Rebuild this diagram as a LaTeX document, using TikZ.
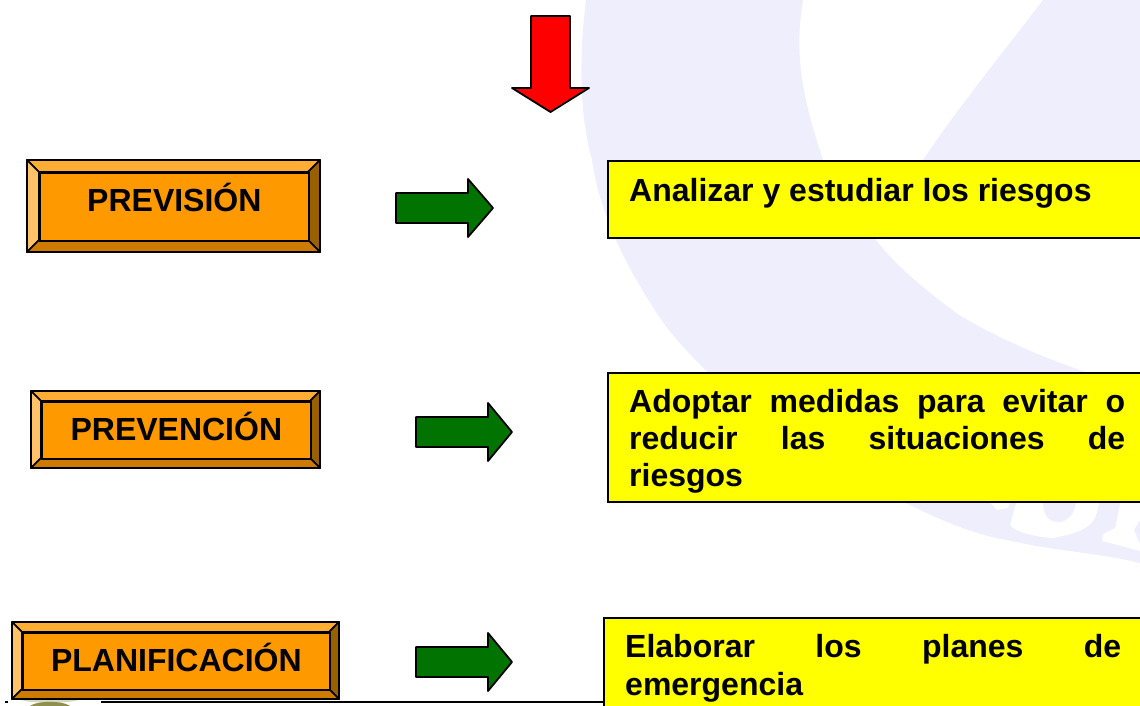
\documentclass[tikz,border=0pt]{standalone}
\usepackage{fontspec}
\setmainfont{Liberation Sans}
\definecolor{wash}{HTML}{EEEEFC}
\definecolor{faceC}{HTML}{FF9900}
\definecolor{faceT}{HTML}{FFAD33}
\definecolor{faceL}{HTML}{FFC266}
\definecolor{faceR}{HTML}{996000}
\definecolor{faceB}{HTML}{CC7A00}
\definecolor{arrowgreen}{HTML}{007300}
\definecolor{olive}{HTML}{8F8F50}
\definecolor{olivepale}{HTML}{D8D8BC}
\definecolor{pureyellow}{HTML}{FFFF00}
\definecolor{purered}{HTML}{FF0000}
\tikzset{
  x=1pt,y=-1pt,
  bev/.style={draw=black,line width=1.7pt,line join=round},
  yellowbox/.style={draw=black,fill=pureyellow,line width=2pt},
  blockarrow/.style={draw=black,line width=1.8pt,line join=round},
  label/.style={font=\fontsize{32}{37}\selectfont\bfseries,inner sep=0pt,text=black},
  bodytext/.style={font=\fontsize{32}{37}\selectfont\bfseries,inner sep=0pt,text=black,anchor=north west,align=left},
}
\newcommand{\bevelbox}[8]{%
  \fill[faceT,bev] (#2,#3) -- (#4,#3) -- (#4-#6,#3+#6) -- (#2+#6,#3+#6) -- cycle;
  \fill[faceL,bev] (#2,#3) -- (#2+#6,#3+#6) -- (#2+#6,#5-#6) -- (#2,#5) -- cycle;
  \fill[faceR,bev] (#4,#3) -- (#4,#5) -- (#4-#6,#5-#6) -- (#4-#6,#3+#6) -- cycle;
  \fill[faceB,bev] (#2,#5) -- (#2+#6,#5-#6) -- (#4-#6,#5-#6) -- (#4,#5) -- cycle;
  \node[label,draw=black,line width=1.7pt,fill=faceC,minimum width=#4-#2-2*#6,minimum height=#5-#3-2*#6,anchor=north west] (#1) at (#2+#6,#3+#6) {\smash{\raisebox{#8}{#7}}};
}
\newcommand{\jline}[1]{\hbox to 496pt{#1}}
\begin{document}
\begin{tikzpicture}
\useasboundingbox (0,0) rectangle (1140,706);
\clip (0,0) rectangle (1140,706);
% pale watermark
\fill[wash] (586,0) .. controls (580,50) and (578,110) .. (592,160)
  .. controls (600,215) and (625,265) .. (660,318)
  .. controls (700,375) and (790,450) .. (910,505)
  .. controls (950,525) and (985,537) .. (1007,540)
  .. controls (1060,552) and (1100,553) .. (1140,563)
  -- (1140,390) .. controls (1060,365) and (1010,345) .. (959,315)
  .. controls (925,290) and (895,265) .. (876,240)
  .. controls (850,210) and (835,185) .. (823,160)
  .. controls (805,105) and (793,60) .. (803,0) -- cycle;
\fill[wash] (1043,0) -- (1140,0) -- (1140,236) -- (880,236) -- (923,160) .. controls (960,105) and (1005,50) .. (1043,0) -- cycle;
\fill[white] (1017,500) -- (1100,500) -- (1097,512) .. controls (1094,525) and (1085,532) .. (1053,538)
  .. controls (1035,537) and (1015,532) .. (1010,525) -- cycle;
\fill[wash] (1043,500) -- (1076,500) .. controls (1076,515) and (1065,523) .. (1057,522)
  .. controls (1048,521) and (1043,515) .. (1043,500) -- cycle;
\fill[white] (988,500) -- (1011,500) -- (1008,508) -- (997,510) -- cycle;
\fill[white] (1121,500) -- (1115,528) -- (1103,534) -- (1102,541) -- (1140,551) -- (1140,544) -- (1134,530) -- (1140,520) -- (1140,500) -- cycle;
% rule and crest
\coordinate (ruleL) at (101,702);
\coordinate (ruleR) at (604,702);
\draw[black,line width=2pt] (ruleL) -- (ruleR);
\draw[black,line width=2pt] (5,702) -- (8,702);
\fill[olivepale] (20,699) -- (80,699) .. controls (75,704) and (25,704) .. (20,699) -- cycle;
\fill[olive] (30,706) .. controls (37,700.5) and (63,700.5) .. (70,706) -- cycle;
% red arrow
\filldraw[fill=purered,blockarrow] (531,16) -- (570,16) -- (570,88) -- (589,88) -- (550.5,112) -- (512,88) -- (531,88) -- cycle;
% label boxes
\bevelbox{prevision}{27}{160}{320}{252}{12}{PREVISIÓN}{-5pt}
\bevelbox{prevencion}{31}{391}{320}{468}{10}{PREVENCIÓN}{-10.5pt}
\bevelbox{planificacion}{12}{622}{339}{699}{10}{PLANIFICACIÓN}{-10.5pt}
% green arrows
\filldraw[fill=arrowgreen,blockarrow] (396,193) -- (468,193) -- (468,179) -- (493,208) -- (468,237) -- (468,223) -- (396,223) -- cycle;
\filldraw[fill=arrowgreen,blockarrow] (416,417) -- (488,417) -- (488,403) -- (512,432) -- (488,461) -- (488,447) -- (416,447) -- cycle;
\filldraw[fill=arrowgreen,blockarrow] (416,647) -- (488,647) -- (488,633) -- (512,662) -- (488,691) -- (488,677) -- (416,677) -- cycle;
% yellow boxes
\node[yellowbox,anchor=north west,minimum width=540,minimum height=77,inner sep=0pt] (box1) at (607,160) {};
\node[yellowbox,anchor=north west,minimum width=540,minimum height=129,inner sep=0pt] (box2) at (607,372) {};
\node[yellowbox,anchor=north west,minimum width=544,minimum height=100,inner sep=0pt] (box3) at (603,617) {};
\node[bodytext,anchor=base west] (t1) at (629,201) {Analizar y estudiar los riesgos};
\node[bodytext] (t2) at (629,389) {\jline{Adoptar\hfill medidas\hfill para\hfill evitar\hfill o}\\\jline{reducir\hfill las\hfill situaciones\hfill de}\\riesgos};
\node[bodytext,font=\fontsize{32}{38}\selectfont\bfseries] (t3) at (625,634) {\jline{Elaborar\hfill los\hfill planes\hfill de}\\emergencia};
\end{tikzpicture}
\end{document}
